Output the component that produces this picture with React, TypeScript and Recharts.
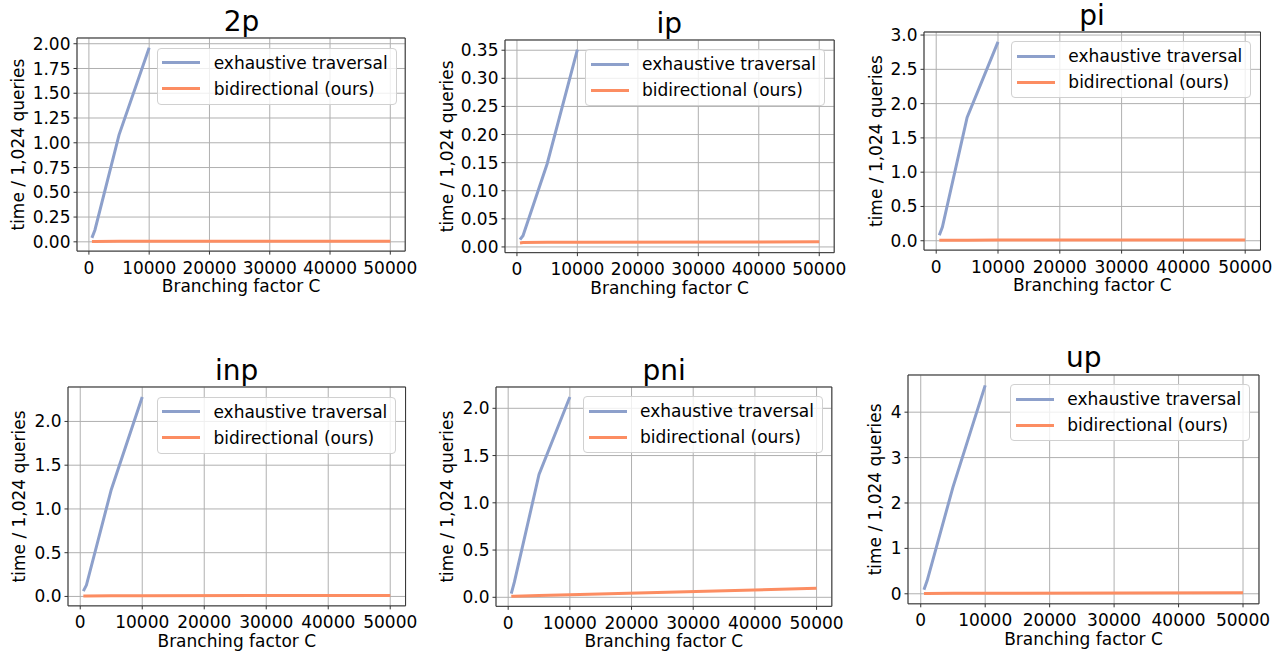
import { LineChart, Line, XAxis, YAxis, CartesianGrid, Legend, ReferenceArea } from "recharts";

const FONT = "'DejaVu Sans', 'Liberation Sans', sans-serif";
const BLUE = "#8da0cb";
const ORANGE = "#fc8d62";

const branching = [500, 1000, 5000, 10000, 50000];
const xTicks = [0, 10000, 20000, 30000, 40000, 50000];

// exhaustive traversal was only run up to C = 10000
const exhaustive2p = [0.04, 0.12, 1.08, 1.96, null];
const bidirectional2p = [0.004, 0.004, 0.005, 0.005, 0.006];
const exhaustiveIp = [0.013, 0.02, 0.148, 0.351, null];
const bidirectionalIp = [0.007, 0.008, 0.0085, 0.0085, 0.009];
const exhaustivePi = [0.08, 0.2, 1.8, 2.9, null];
const bidirectionalPi = [0.008, 0.008, 0.009, 0.01, 0.012];
const exhaustiveInp = [0.06, 0.13, 1.22, 2.28, null];
const bidirectionalInp = [0.006, 0.006, 0.007, 0.008, 0.012];
const exhaustivePni = [0.04, 0.16, 1.3, 2.12, null];
const bidirectionalPni = [0.01, 0.011, 0.018, 0.026, 0.095];
const exhaustiveUp = [0.09, 0.29, 2.35, 4.59, null];
const bidirectionalUp = [0.008, 0.008, 0.01, 0.012, 0.02];

const ticks2p = [0, 0.25, 0.5, 0.75, 1.0, 1.25, 1.5, 1.75, 2.0];
const ticksIp = [0, 0.05, 0.1, 0.15, 0.2, 0.25, 0.3, 0.35];
const ticksPi = [0, 0.5, 1, 1.5, 2, 2.5, 3];
const ticksInp = [0, 0.5, 1, 1.5, 2];
const ticksPni = [0, 0.5, 1, 1.5, 2];
const ticksUp = [0, 1, 2, 3, 4];

const seriesNames = ["exhaustive traversal", "bidirectional (ours)"];

const panels = [
  { title: "2p", exhaustive: exhaustive2p, bidirectional: bidirectional2p, ticks: ticks2p, decimals: 2 },
  { title: "ip", exhaustive: exhaustiveIp, bidirectional: bidirectionalIp, ticks: ticksIp, decimals: 2 },
  { title: "pi", exhaustive: exhaustivePi, bidirectional: bidirectionalPi, ticks: ticksPi, decimals: 1 },
  { title: "inp", exhaustive: exhaustiveInp, bidirectional: bidirectionalInp, ticks: ticksInp, decimals: 1 },
  { title: "pni", exhaustive: exhaustivePni, bidirectional: bidirectionalPni, ticks: ticksPni, decimals: 1 },
  { title: "up", exhaustive: exhaustiveUp, bidirectional: bidirectionalUp, ticks: ticksUp, decimals: 0 },
];

// where x=0, x=50000, y=0 and the top y tick sit on the page, plus y label distance
const layout = [
  { x0: 89.3, x50: 390.7, y0: 242.3, yTop: 44.2, yLabel: 59 },
  { x0: 516.7, x50: 819, y0: 246.7, yTop: 50, yLabel: 58 },
  { x0: 936, x50: 1245, y0: 240.7, yTop: 35, yLabel: 48 },
  { x0: 80, x50: 390, y0: 596.7, yTop: 421.7, yLabel: 49 },
  { x0: 508.3, x50: 816.7, y0: 597.3, yTop: 408.3, yLabel: 48.5 },
  { x0: 921, x50: 1243.3, y0: 593.3, yTop: 411.7, yLabel: 33.5 },
];

const YW = 75;
const MT = 10;
const MR = 30;
const XH = 52;

const renderLegend = (props: any) => {
  const items = [...(props.payload || [])].sort(
    (a: any, b: any) => seriesNames.indexOf(a.value) - seriesNames.indexOf(b.value)
  );
  return (
    <div
      style={{
        border: "1px solid #d0d0d0",
        borderRadius: 4,
        background: "rgba(255,255,255,0.8)",
        padding: "1px 8px 2px 4.6px",
        fontFamily: FONT,
        fontSize: 17,
        color: "#000",
      }}
    >
      {items.map((e: any) => (
        <div key={e.value} style={{ display: "flex", alignItems: "center", height: 26, whiteSpace: "nowrap" }}>
          <span style={{ display: "inline-block", width: 38, height: 3, background: e.color, marginRight: 13.3 }} />
          <span>{e.value}</span>
        </div>
      ))}
    </div>
  );
};

const Panel = ({ p, l }: { p: any; l: any }) => {
  const data = branching.map((c, i) => ({ c, exhaustive: p.exhaustive[i], bidirectional: p.bidirectional[i] }));

  // matplotlib-style 5% margins
  const xr = branching[branching.length - 1] - branching[0];
  const xDomain = [branching[0] - 0.05 * xr, branching[branching.length - 1] + 0.05 * xr];
  const vals = [...p.exhaustive, ...p.bidirectional].filter((v: any) => v != null);
  const yMin = Math.min(...vals);
  const yMax = Math.max(...vals);
  const yr = yMax - yMin;
  const yDomain = [yMin - 0.05 * yr, yMax + 0.05 * yr];

  const kx = (l.x50 - l.x0) / 50000;
  const ky = (l.y0 - l.yTop) / p.ticks[p.ticks.length - 1];
  const left = l.x0 + xDomain[0] * kx;
  const right = l.x0 + xDomain[1] * kx;
  const top = l.y0 - yDomain[1] * ky;
  const bottom = l.y0 - yDomain[0] * ky;
  const w = right - left;
  const h = bottom - top;

  const lx = YW - l.yLabel;
  const ly = MT + h / 2;

  return (
    <>
      <div
        style={{
          position: "absolute",
          left,
          top: top - 6.5 - 23.7,
          width: w,
          textAlign: "center",
          fontSize: 28,
          lineHeight: "28px",
          color: "#000",
        }}
      >
        {p.title}
      </div>
      <div style={{ position: "absolute", left: left - YW, top: top - MT }}>
        <LineChart width={w + YW + MR} height={h + MT + XH} data={data} margin={{ top: MT, right: MR, bottom: 0, left: 0 }}>
          <CartesianGrid stroke="#b0b0b0" strokeWidth={1} />
          <XAxis
            dataKey="c"
            type="number"
            domain={xDomain}
            ticks={xTicks}
            allowDataOverflow
            interval={0}
            height={XH}
            axisLine={false}
            tickSize={3.5}
            tickMargin={7}
            tickLine={{ stroke: "#333" }}
            tick={{ fill: "#000", fontSize: 17 }}
            label={{ value: "Branching factor C", position: "insideBottom", offset: XH - 41, fill: "#000", fontSize: 17 }}
          />
          <YAxis
            type="number"
            domain={yDomain}
            ticks={p.ticks}
            allowDataOverflow
            interval={0}
            width={YW}
            axisLine={false}
            tickSize={3.5}
            tickMargin={3}
            tickLine={{ stroke: "#333" }}
            tick={{ fill: "#000", fontSize: 17 }}
            tickFormatter={(v: number) => v.toFixed(p.decimals)}
            label={{
              content: () => (
                <text
                  x={lx}
                  y={ly}
                  transform={`rotate(-90 ${lx} ${ly})`}
                  textAnchor="middle"
                  dominantBaseline="central"
                  fontSize={17}
                  fill="#000"
                >
                  time / 1,024 queries
                </text>
              ),
            }}
          />
          <ReferenceArea
            x1={xDomain[0]}
            x2={xDomain[1]}
            y1={yDomain[0]}
            y2={yDomain[1]}
            fill="none"
            stroke="#333"
            strokeWidth={1}
            ifOverflow="visible"
          />
          <Line
            type="linear"
            dataKey="exhaustive"
            name={seriesNames[0]}
            stroke={BLUE}
            strokeWidth={3}
            dot={false}
            isAnimationActive={false}
          />
          <Line
            type="linear"
            dataKey="bidirectional"
            name={seriesNames[1]}
            stroke={ORANGE}
            strokeWidth={3}
            dot={false}
            isAnimationActive={false}
          />
          <Legend
            layout="vertical"
            align="center"
            verticalAlign="middle"
            wrapperStyle={{ top: MT + 9.5, right: MR + 9 }}
            content={renderLegend}
          />
        </LineChart>
      </div>
    </>
  );
};

export default function App() {
  return (
    <div
      style={{
        position: "absolute",
        left: 0,
        top: 0,
        width: 1280,
        height: 653,
        background: "#fff",
        fontFamily: FONT,
        overflow: "hidden",
      }}
    >
      {panels.map((p, i) => (
        <Panel key={p.title} p={p} l={layout[i]} />
      ))}
    </div>
  );
}
